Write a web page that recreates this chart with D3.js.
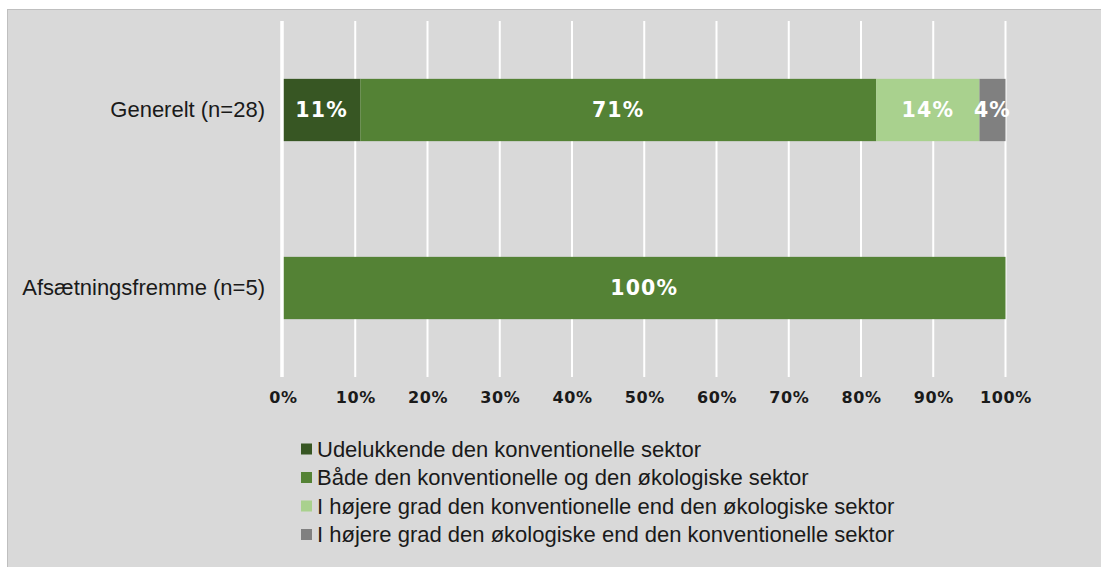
<!DOCTYPE html>
<html>
<head>
<meta charset="utf-8">
<script src="https://cdn.jsdelivr.net/npm/d3@7"></script>
<style>
  body { margin: 0; background: #ffffff; }
  svg { display: block; }
</style>
</head>
<body>
<div class="chartDiv"></div>
<script>
"use strict";

// Data:
var categories = ["Generelt (n=28)", "Afsætningsfremme (n=5)"];
var seriesNames = [
    "Udelukkende den konventionelle sektor",
    "Både den konventionelle og den økologiske sektor",
    "I højere grad den konventionelle end den økologiske sektor",
    "I højere grad den økologiske end den konventionelle sektor"
];
var seriesColors = ["#375623", "#548235", "#a9d18e", "#808080"];
// shares in percent, one array per category
var generelt = [10.7, 71.4, 14.3, 3.6];
var afsaetning = [0, 100, 0, 0];
var valueLabels = [["11%", "71%", "14%", "4%"], ["", "100%", "", ""]];
var tickValues = [0, 10, 20, 30, 40, 50, 60, 70, 80, 90, 100];

var values = [generelt, afsaetning];

// SVG Properties:
var width = 1101, height = 567;

var svg = d3.select(".chartDiv").append("svg")
    .attr("width", width)
    .attr("height", height);

// chart area background
svg.append("rect")
    .attr("x", 7.5).attr("y", 9.5)
    .attr("width", 1110).attr("height", 580)
    .attr("fill", "#d9d9d9")
    .attr("stroke", "#bfbfbf");

var x = d3.scaleLinear().domain([0, 100]).range([283, 1005.5]);
var y = d3.scaleBand().domain(categories).range([21, 377])
    .paddingInner(0.65).paddingOuter(0.325);

// gridlines
svg.append("g").selectAll("line")
    .data(tickValues.slice(1)).enter()
    .append("line")
    .attr("x1", function(d) { return x(d); })
    .attr("x2", function(d) { return x(d); })
    .attr("y1", 21).attr("y2", 377)
    .attr("stroke", "#ffffff")
    .attr("stroke-width", 2);

// stacked segments
var segs = [];
for (var i = 0; i < categories.length; i++)
{
    var acc = 0;
    for (var j = 0; j < seriesNames.length; j++)
    {
        segs.push({ cat: categories[i], s: j, x0: acc, x1: acc + values[i][j], label: valueLabels[i][j] });
        acc += values[i][j];
    }
}

var bars = svg.append("g");
bars.selectAll("rect")
    .data(segs.filter(function(d) { return d.x1 > d.x0; })).enter()
    .append("rect")
    .attr("x", function(d) { return x(d.x0); })
    .attr("width", function(d) { return x(d.x1) - x(d.x0); })
    .attr("y", function(d) { return y(d.cat); })
    .attr("height", y.bandwidth())
    .attr("fill", function(d) { return seriesColors[d.s]; });

bars.selectAll("text")
    .data(segs.filter(function(d) { return d.label !== ""; })).enter()
    .append("text")
    .attr("x", function(d) { return x((d.x0 + d.x1) / 2); })
    .attr("y", function(d) { return y(d.cat) + y.bandwidth() / 2; })
    .attr("dy", "0.36em")
    .attr("text-anchor", "middle")
    .attr("font-family", "DejaVu Sans")
    .attr("font-weight", "bold")
    .attr("font-size", 20.5)
    .attr("letter-spacing", 1.2)
    .attr("fill", "#ffffff")
    .text(function(d) { return d.label; });

// zero line
svg.append("line")
    .attr("x1", x(0) - 1).attr("x2", x(0) - 1)
    .attr("y1", 21).attr("y2", 377)
    .attr("stroke", "#ffffff")
    .attr("stroke-width", 3.5);

// x axis labels
var xAxis = d3.axisBottom(x)
    .tickValues(tickValues)
    .tickSize(0)
    .tickPadding(0)
    .tickFormat(function(d) { return d + "%"; });

var gx = svg.append("g")
    .attr("transform", "translate(0,392)")
    .call(xAxis);
gx.select(".domain").remove();
gx.selectAll("text")
    .attr("font-family", "DejaVu Sans")
    .attr("font-weight", "bold")
    .attr("font-size", 16)
    .attr("letter-spacing", 0.6)
    .attr("fill", "#1a1a1a");

// category labels
var yAxis = d3.axisLeft(y).tickSize(0).tickPadding(18);
var gy = svg.append("g")
    .attr("transform", "translate(283,0)")
    .call(yAxis);
gy.select(".domain").remove();
gy.selectAll("text")
    .attr("font-family", "Liberation Sans, Arial, sans-serif")
    .attr("font-size", 22)
    .attr("fill", "#1a1a1a");

// legend
var legend = svg.append("g").selectAll("g")
    .data(seriesNames).enter()
    .append("g")
    .attr("transform", function(d, i) { return "translate(301," + (449 + i * 28.5) + ")"; });

legend.append("rect")
    .attr("x", 0).attr("y", -5.5)
    .attr("width", 11).attr("height", 11)
    .attr("fill", function(d, i) { return seriesColors[i]; });

legend.append("text")
    .attr("x", 16)
    .attr("dy", "0.36em")
    .attr("font-family", "Liberation Sans, Arial, sans-serif")
    .attr("font-size", 22)
    .attr("fill", "#1a1a1a")
    .text(function(d) { return d; });
</script>
</body>
</html>
